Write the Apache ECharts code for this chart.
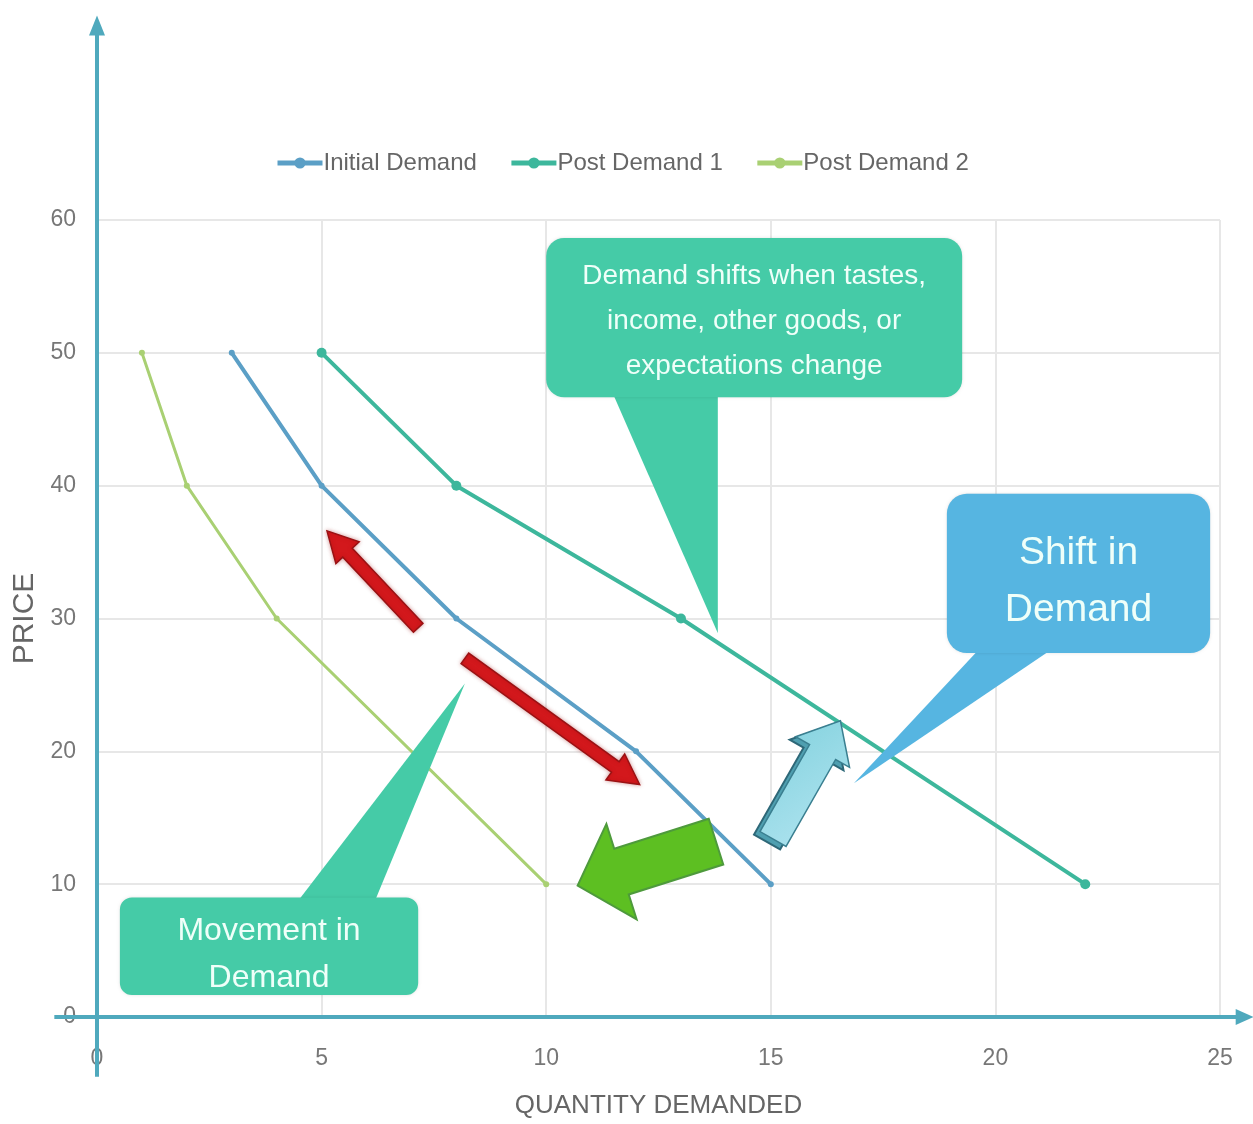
<!DOCTYPE html>
<html>
<head>
<meta charset="utf-8">
<title>Demand Curves</title>
<script src="https://cdn.jsdelivr.net/npm/echarts@6/dist/echarts.min.js"></script>
<style>
  html, body { margin: 0; padding: 0; background: #ffffff; }
  #main { width: 1253px; height: 1124px; }
</style>
</head>
<body>
<div id="main"></div>
<script>
// Demand schedules: [quantity, price]
const seriesNames = ['Initial Demand', 'Post Demand 1', 'Post Demand 2'];
const initialDemand = [[3, 50], [5, 40], [8, 30], [12, 20], [15, 10]];
const postDemand1 = [[5, 50], [8, 40], [13, 30], [22, 10]];
const postDemand2 = [[1, 50], [2, 40], [4, 30], [10, 10]];

// Axis ranges and tick steps
const xTicks = { min: 0, max: 25, step: 5 };
const yTicks = { min: 0, max: 60, step: 10 };

// Callout texts
const noteShift = 'Demand shifts when tastes,\nincome, other goods, or\nexpectations change';
const noteShiftIn = 'Shift in\nDemand';
const noteMovement = 'Movement in\nDemand';

const FONT = "'Liberation Sans', Arial, sans-serif";
const colors = ['#5b9fc6', '#3db79c', '#a9d073'];

const chart = echarts.init(document.getElementById('main'), null, { renderer: 'canvas' });

const option = {
  backgroundColor: '#ffffff',
  animation: false,
  color: colors,
  textStyle: { fontFamily: FONT },
  legend: {
    top: 146,
    left: 270,
    itemWidth: 45,
    itemHeight: 14,
    itemGap: 32,
    lineStyle: { width: 5 },
    textStyle: { fontSize: 24, color: '#666', fontFamily: FONT, padding: [0, 0, 0, -4] },
    data: seriesNames
  },
  grid: { left: 97, right: 33, top: 220, bottom: 104, containLabel: false },
  xAxis: {
    type: 'value',
    min: xTicks.min, max: xTicks.max, interval: xTicks.step,
    name: 'QUANTITY DEMANDED',
    nameLocation: 'middle',
    nameGap: 76,
    nameTextStyle: { fontSize: 26, color: '#666', fontFamily: FONT },
    axisLine: { show: false },
    axisTick: { show: false },
    axisLabel: { margin: 30, fontSize: 23, color: '#777', fontFamily: FONT },
    splitLine: { show: true, lineStyle: { color: '#e7e7e7', width: 2 } }
  },
  yAxis: {
    type: 'value',
    min: yTicks.min, max: yTicks.max, interval: yTicks.step,
    name: 'PRICE',
    nameLocation: 'middle',
    nameGap: 56,
    nameTextStyle: { fontSize: 30, color: '#666', fontFamily: FONT },
    axisLine: { show: false },
    axisTick: { show: false },
    axisLabel: { margin: 21, fontSize: 23, color: '#777', fontFamily: FONT },
    splitLine: { show: true, lineStyle: { color: '#e7e7e7', width: 2 } }
  },
  series: [
    {
      name: seriesNames[0], type: 'line', data: initialDemand,
      symbol: 'circle', symbolSize: 6,
      lineStyle: { width: 4, color: colors[0] },
      itemStyle: { color: colors[0] }, z: 3
    },
    {
      name: seriesNames[1], type: 'line', data: postDemand1,
      symbol: 'circle', symbolSize: 10,
      lineStyle: { width: 4, color: colors[1] },
      itemStyle: { color: colors[1] }, z: 3
    },
    {
      name: seriesNames[2], type: 'line', data: postDemand2,
      symbol: 'circle', symbolSize: 6,
      lineStyle: { width: 3, color: colors[2] },
      itemStyle: { color: colors[2] }, z: 3
    }
  ]
};

chart.setOption(option);

// Annotation geometry, given in data units so it follows the axes
const calloutShift = { box: [10.0, 58.65, 19.26, 46.65], base: [11.5, 13.82], tip: [13.82, 28.9], dy: 4 };
const calloutShiftIn = { box: [18.92, 39.4, 24.78, 27.4], base: [19.6, 21.2], tip: [16.85, 17.6], dy: 8 };
const calloutMove = { box: [0.51, 9.0, 7.15, 1.65], base: [4.5, 6.2], tip: [8.19, 25.1], dy: 8 };
const redUp = { from: [7.15, 29.3], to: [5.12, 36.6] };
const redDown = { from: [8.19, 27.0], to: [12.08, 17.5] };
const greenLeft = { from: [13.78, 13.2], to: [10.7, 9.9] };
const blueUp = { from: [15.05, 13.4], to: [16.55, 22.3] };

function P(x, y) { return chart.convertToPixel({ gridIndex: 0 }, [x, y]); }

function arrowPts(p0, p1, sw, hw, hl) {
  const dx = p1[0] - p0[0], dy = p1[1] - p0[1];
  const L = Math.hypot(dx, dy);
  const ux = dx / L, uy = dy / L, nx = -uy, ny = ux;
  const b = [p1[0] - ux * hl, p1[1] - uy * hl];
  return [
    [p0[0] + nx * sw / 2, p0[1] + ny * sw / 2],
    [b[0] + nx * sw / 2, b[1] + ny * sw / 2],
    [b[0] + nx * hw / 2, b[1] + ny * hw / 2],
    [p1[0], p1[1]],
    [b[0] - nx * hw / 2, b[1] - ny * hw / 2],
    [b[0] - nx * sw / 2, b[1] - ny * sw / 2],
    [p0[0] - nx * sw / 2, p0[1] - ny * sw / 2]
  ];
}

function callout(c, fill, text, fontSize, lineHeight, radius) {
  const tl = P(c.box[0], c.box[1]);
  const br = P(c.box[2], c.box[3]);
  const pointerDown = c.tip[1] < c.box[3];
  const baseY = pointerDown ? br[1] - 2 : tl[1] + 2;
  const bl = P(c.base[0], 0)[0], brx = P(c.base[1], 0)[0];
  const tip = P(c.tip[0], c.tip[1]);
  return [
    {
      type: 'polygon', z: 60,
      shape: { points: [[bl, baseY], [brx, baseY], tip] },
      style: { fill: fill }
    },
    {
      type: 'rect', z: 61,
      shape: { x: tl[0], y: tl[1], width: br[0] - tl[0], height: br[1] - tl[1], r: radius },
      style: { fill: fill, shadowBlur: 3, shadowColor: 'rgba(0,0,0,0.12)' }
    },
    {
      type: 'text', z: 62,
      x: (tl[0] + br[0]) / 2, y: (tl[1] + br[1]) / 2 + (c.dy || 0),
      style: {
        text: text, fill: '#effff9', fontSize: fontSize, lineHeight: lineHeight,
        fontFamily: FONT, align: 'center', verticalAlign: 'middle'
      }
    }
  ];
}

function build() {
  const els = [];

  // Axis lines that run past the plot area, with arrow heads
  const axisColor = '#4fa9bd';
  const yBot = P(0, -4.5), yTop = P(0, 75.4);
  const xLeft = P(-0.95, 0), xRight = P(25.75, 0);
  els.push({ type: 'line', z: 50, shape: { x1: yBot[0], y1: yBot[1], x2: yTop[0], y2: yTop[1] + 10 }, style: { stroke: axisColor, lineWidth: 4 } });
  els.push({ type: 'polygon', z: 50, shape: { points: [[yTop[0] - 8, yTop[1] + 20], [yTop[0], yTop[1]], [yTop[0] + 8, yTop[1] + 20]] }, style: { fill: axisColor } });
  els.push({ type: 'line', z: 50, shape: { x1: xLeft[0], y1: xLeft[1], x2: xRight[0] - 10, y2: xRight[1] }, style: { stroke: axisColor, lineWidth: 4 } });
  els.push({ type: 'polygon', z: 50, shape: { points: [[xRight[0] - 18, xRight[1] - 8], [xRight[0], xRight[1]], [xRight[0] - 18, xRight[1] + 8]] }, style: { fill: axisColor } });

  // Callouts
  els.push(...callout(calloutShift, '#45cba7', noteShift, 28, 45, 18));
  els.push(...callout(calloutShiftIn, '#56b5e1', noteShiftIn, 39, 57, 20));
  els.push(...callout(calloutMove, '#45cba7', noteMovement, 32, 47, 12));

  // Movement arrows along the initial curve
  [redUp, redDown].forEach(a => {
    els.push({
      type: 'polygon', z: 55,
      shape: { points: arrowPts(P(a.from[0], a.from[1]), P(a.to[0], a.to[1]), 13, 32, 30) },
      style: { fill: '#d3181c', stroke: '#9a1214', lineWidth: 1.5, shadowBlur: 4, shadowColor: 'rgba(150,0,0,0.35)' }
    });
  });

  // Leftward shift arrow
  els.push({
    type: 'polygon', z: 55,
    shape: { points: arrowPts(P(greenLeft.from[0], greenLeft.from[1]), P(greenLeft.to[0], greenLeft.to[1]), 48, 100, 46) },
    style: { fill: '#5dbf22', stroke: '#4e9a3c', lineWidth: 2 }
  });

  // Rightward shift arrow with a darker side face
  const bf = P(blueUp.from[0], blueUp.from[1]), bt = P(blueUp.to[0], blueUp.to[1]);
  els.push({
    type: 'polygon', z: 54,
    shape: { points: arrowPts([bf[0] - 6, bf[1] + 3], [bt[0] - 6, bt[1] + 3], 30, 62, 36) },
    style: { fill: '#4f9fb0', stroke: '#2e6878', lineWidth: 2 }
  });
  els.push({
    type: 'polygon', z: 55,
    shape: { points: arrowPts(bf, bt, 30, 62, 36) },
    style: {
      fill: new echarts.graphic.LinearGradient(0, 0, 1, 1, [
        { offset: 0, color: '#7fd0dc' }, { offset: 1, color: '#b5e6f2' }
      ]),
      stroke: '#3a7f90', lineWidth: 1.5
    }
  });

  chart.setOption({ graphic: els });
}

build();
</script>
</body>
</html>
